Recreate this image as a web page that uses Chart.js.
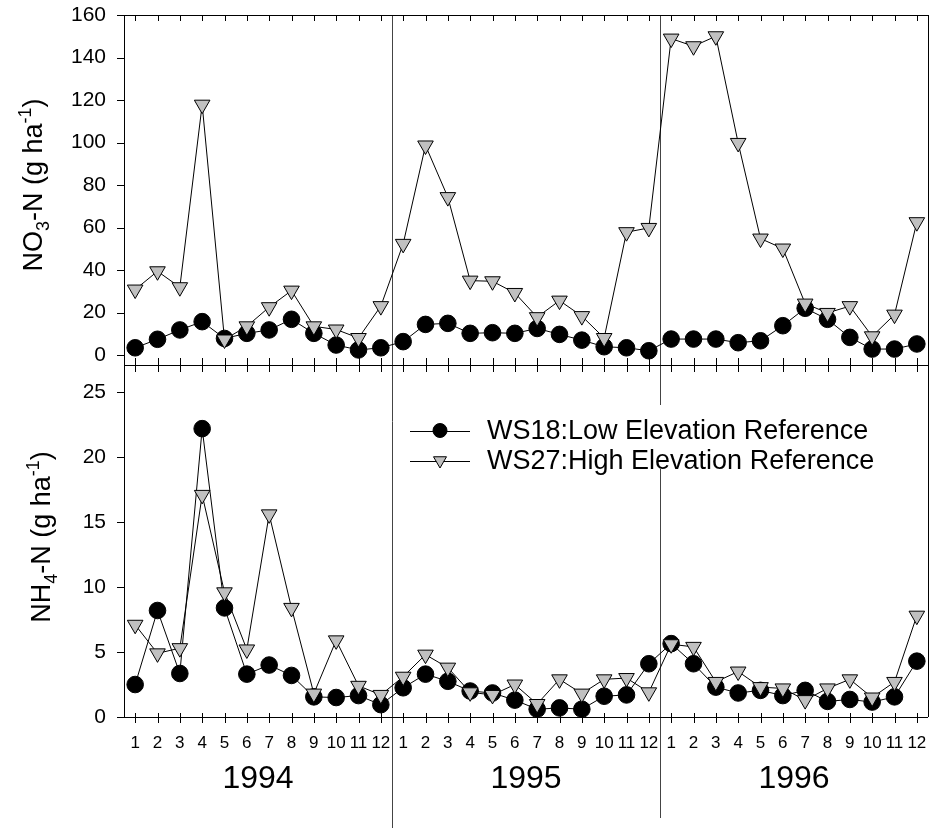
<!DOCTYPE html>
<html>
<head>
<meta charset="utf-8">
<script src="https://cdn.jsdelivr.net/npm/chart.js@4.4.0/dist/chart.umd.min.js"></script>
<style>
  body { margin: 0; background: #fff; }
  #wrap { position: relative; width: 930px; height: 828px; }
  #wrap canvas { position: absolute; left: 0; top: 0; }
</style>
</head>
<body>
<div id="wrap">
  <canvas id="nh4" width="930" height="828"></canvas>
  <canvas id="no3" width="930" height="828"></canvas>
</div>
<script>
const MONTHS = ['1', '2', '3', '4', '5', '6', '7', '8', '9', '10', '11', '12'];
const YEARS = ['1994', '1995', '1996'];
const SERIES_NAMES = ['WS18:Low Elevation Reference', 'WS27:High Elevation Reference'];

// NO3-N, g/ha, Jan 1994 .. Dec 1996
const NO3_WS18 = [3.4, 7.4, 11.8, 15.7, 7.8, 10.2, 11.8, 16.8, 10.2, 4.7, 2.4, 3.4,
  6.3, 14.4, 14.9, 10.2, 10.5, 10.2, 12.5, 9.7, 7, 3.9, 3.4, 2,
  7.5, 7.5, 7.5, 5.8, 6.7, 13.8, 22, 16.8, 8.3, 2.8, 2.8, 5.2];
const NO3_WS27 = [30.8, 39.4, 31.9, 117.8, 7.3, 13.5, 22.5, 30.3, 13.5, 12, 8, 23,
  52.3, 98.6, 74.3, 35, 34.7, 29.2, 17.8, 25.6, 18.3, 8, 57.8, 59.8,
  148.9, 145.3, 150, 99.8, 54.8, 50.1, 24.2, 19.8, 23, 8.8, 19, 62.5];

// NH4-N, g/ha
const NH4_WS18 = [2.5, 8.2, 3.35, 22.2, 8.4, 3.3, 4.0, 3.2, 1.55, 1.5, 1.65, 0.95,
  2.25, 3.3, 2.75, 2.0, 1.85, 1.3, 0.6, 0.7, 0.6, 1.6, 1.7, 4.1,
  5.65, 4.1, 2.3, 1.85, 2.05, 1.65, 2.05, 1.2, 1.35, 1.15, 1.55, 4.3];
const NH4_WS27 = [7.1, 4.9, 5.3, 17.1, 9.6, 5.2, 15.6, 8.4, 1.8, 5.9, 2.4, 1.7,
  3.1, 4.8, 3.8, 1.9, 1.7, 2.5, 1.0, 2.9, 1.8, 2.9, 3.0, 1.9,
  5.6, 5.4, 2.7, 3.5, 2.3, 2.2, 1.3, 2.2, 2.9, 1.5, 2.7, 7.8];

const NO3_TICKS = [0, 20, 40, 60, 80, 100, 120, 140, 160];
const NH4_TICKS = [0, 5, 10, 15, 20, 25];

const FONT = '"Liberation Sans", Arial, Helvetica, sans-serif';
const labels = YEARS.flatMap(() => MONTHS);

function ws18(data) {
  return {
    label: SERIES_NAMES[0], data, order: 2, clip: false,
    borderColor: '#000', borderWidth: 1, tension: 0,
    pointStyle: 'circle', pointRadius: 8.3,
    pointBackgroundColor: '#000', pointBorderColor: '#000', pointBorderWidth: 1
  };
}
function ws27(data) {
  return {
    label: SERIES_NAMES[1], data, order: 1, clip: false,
    borderColor: '#000', borderWidth: 1, tension: 0,
    pointStyle: 'triangle', pointRotation: 180, pointRadius: 9,
    pointBackgroundColor: '#c0c0c0', pointBorderColor: '#000', pointBorderWidth: 1
  };
}

function xScale(show) {
  return {
    type: 'category', offset: true, display: show,
    grid: { display: false, drawTicks: false }, border: { display: false },
    ticks: { color: '#000', font: { family: FONT, size: 17 }, padding: 16, maxRotation: 0, autoSkip: false },
    afterFit: s => {
      s.height = show ? 111 : 0;
      s.paddingLeft = 0;
      s.paddingRight = 0;
    }
  };
}
function yScale(min, max, tickVals) {
  return {
    min, max,
    grid: { display: false, drawTicks: false }, border: { display: false },
    ticks: { color: '#000', font: { family: FONT, size: 21 }, padding: 18 },
    afterBuildTicks: s => { s.ticks = tickVals.map(v => ({ value: v })); },
    afterFit: s => { s.width = 124; s.paddingTop = 0; s.paddingBottom = 0; }
  };
}

function hline(ctx, x1, x2, y) {
  y = Math.round(y) + 0.5;
  ctx.beginPath(); ctx.moveTo(x1, y); ctx.lineTo(x2, y); ctx.stroke();
}
function vline(ctx, x, y1, y2) {
  x = Math.round(x) + 0.5;
  ctx.beginPath(); ctx.moveTo(x, y1); ctx.lineTo(x, y2); ctx.stroke();
}

// rotated axis title with sub/superscripts
function verticalTitle(ctx, parts, baseX, centerY) {
  ctx.save();
  const big = '27px ' + FONT, small = '18px ' + FONT;
  let total = 0;
  parts.forEach(p => { ctx.font = p.shift ? small : big; p.w = ctx.measureText(p.text).width; total += p.w; });
  ctx.translate(baseX, centerY);
  ctx.rotate(-Math.PI / 2);
  ctx.fillStyle = '#000';
  ctx.textAlign = 'left';
  ctx.textBaseline = 'alphabetic';
  let x = -total / 2;
  parts.forEach(p => { ctx.font = p.shift ? small : big; ctx.fillText(p.text, x, p.shift); x += p.w; });
  ctx.restore();
}

function monthTicks(ctx, xs, y1, y2) {
  for (let i = 0; i < labels.length; i++) vline(ctx, xs.getPixelForValue(i), y1, y2);
}

const topPlugin = {
  id: 'topPanel',
  afterDraw(chart) {
    const { ctx, chartArea: a, scales } = chart;
    ctx.save();
    ctx.strokeStyle = '#000';
    ctx.lineWidth = 1;
    hline(ctx, a.left, a.right, a.top);
    hline(ctx, a.left, a.right, a.bottom);
    vline(ctx, a.left, a.top, a.bottom);
    vline(ctx, a.right, a.top, a.bottom);
    monthTicks(ctx, scales.x, a.top, a.top + 6);
    monthTicks(ctx, scales.x, a.bottom - 7, a.bottom);
    NO3_TICKS.forEach(v => hline(ctx, a.left - 7, a.left, scales.y.getPixelForValue(v)));
    ctx.restore();
    verticalTitle(ctx, [
      { text: 'NO', shift: 0 }, { text: '3', shift: 7 }, { text: '-N (g ha', shift: 0 },
      { text: '-1', shift: -11 }, { text: ')', shift: 0 }
    ], 42, 185);
  }
};

const bottomPlugin = {
  id: 'bottomPanel',
  beforeDatasetsDraw(chart) {
    const { ctx, scales } = chart;
    ctx.save();
    ctx.strokeStyle = '#444';
    ctx.lineWidth = 1;
    vline(ctx, scales.x.getPixelForValue(11.5), 15, 828);
    vline(ctx, scales.x.getPixelForValue(23.5), 15, 818);
    ctx.restore();
  },
  afterDraw(chart) {
    const { ctx, chartArea: a, scales } = chart;
    ctx.save();
    ctx.strokeStyle = '#000';
    ctx.lineWidth = 1;
    hline(ctx, a.left, a.right, a.top);
    hline(ctx, a.left - 4, a.right, a.bottom);
    vline(ctx, a.left, a.top, a.bottom);
    vline(ctx, a.right, a.top, a.bottom);
    monthTicks(ctx, scales.x, a.top, a.top + 7);
    monthTicks(ctx, scales.x, a.bottom - 4, a.bottom + 6);
    NH4_TICKS.forEach(v => hline(ctx, a.left - 7, a.left, scales.y.getPixelForValue(v)));

    // year labels
    ctx.fillStyle = '#000';
    ctx.font = '32px ' + FONT;
    ctx.textAlign = 'center';
    ctx.textBaseline = 'middle';
    YEARS.forEach((yr, k) => ctx.fillText(yr, scales.x.getPixelForValue(5.5 + 12 * k), 779));

    // legend
    ctx.fillStyle = '#fff';
    ctx.fillRect(400, 405, 485, 64);
    const rows = [430.5, 460.5];
    rows.forEach((ry, k) => {
      ctx.strokeStyle = '#000';
      hline(ctx, 410, 470, ry);
      ctx.beginPath();
      if (k === 0) {
        ctx.arc(440, ry, 7, 0, Math.PI * 2);
        ctx.fillStyle = '#000';
      } else {
        const r = 7.5;
        ctx.moveTo(440, ry + r);
        ctx.lineTo(440 - r * Math.sin(Math.PI / 3), ry - r / 2);
        ctx.lineTo(440 + r * Math.sin(Math.PI / 3), ry - r / 2);
        ctx.closePath();
        ctx.fillStyle = '#c0c0c0';
      }
      ctx.fill();
      ctx.stroke();
      ctx.fillStyle = '#000';
      ctx.font = '27px ' + FONT;
      ctx.textAlign = 'left';
      ctx.textBaseline = 'alphabetic';
      ctx.fillText(SERIES_NAMES[k], 487, ry + 8);
    });
    ctx.restore();
    verticalTitle(ctx, [
      { text: 'NH', shift: 0 }, { text: '4', shift: 7 }, { text: '-N (g ha', shift: 0 },
      { text: '-1', shift: -11 }, { text: ')', shift: 0 }
    ], 50, 537);
  }
};

const common = {
  responsive: false,
  devicePixelRatio: 1,
  animation: false,
  events: [],
  plugins: { legend: { display: false }, tooltip: { enabled: false } }
};

new Chart(document.getElementById('no3'), {
  type: 'line',
  data: { labels, datasets: [ws18(NO3_WS18), ws27(NO3_WS27)] },
  options: Object.assign({}, common, {
    layout: { autoPadding: false, padding: { top: 15, right: 2, bottom: 463, left: 0 } },
    scales: { x: xScale(false), y: yScale(-4.7, 160, NO3_TICKS) }
  }),
  plugins: [topPlugin]
});

new Chart(document.getElementById('nh4'), {
  type: 'line',
  data: { labels, datasets: [ws18(NH4_WS18), ws27(NH4_WS27)] },
  options: Object.assign({}, common, {
    layout: { autoPadding: false, padding: { top: 365, right: 2, bottom: 0, left: 0 } },
    scales: { x: xScale(true), y: yScale(0, 27.1, NH4_TICKS) }
  }),
  plugins: [bottomPlugin]
});
</script>
</body>
</html>
